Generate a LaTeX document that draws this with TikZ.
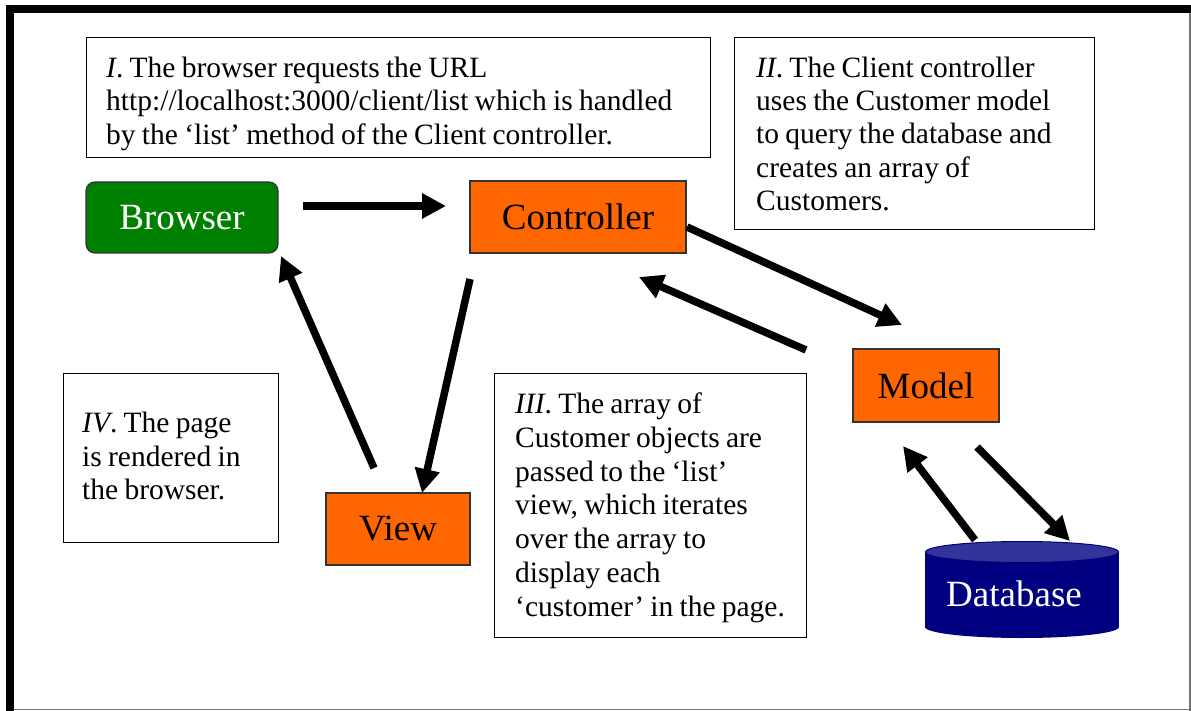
\documentclass[tikz,border=0pt]{standalone}
\usepackage{fontspec}
\setmainfont{Liberation Serif}[WordSpace={0.85,0,0}]
\usetikzlibrary{arrows.meta}
\definecolor{brgreen}{HTML}{008000}
\definecolor{mvcorange}{HTML}{FF6600}
\definecolor{dbnavy}{HTML}{000080}
\definecolor{dbtop}{HTML}{333399}
\tikzset{
  noteframe/.style={draw=black, line width=1.4pt, fill=white, anchor=north west,
    inner sep=0pt},
  notetext/.style={anchor=west, inner sep=0pt, align=left,
    font=\fontsize{29.5}{33.3}\selectfont},
  mvcbox/.style={draw=black!80, line width=1.2pt, fill=mvcorange, inner sep=0pt,
    font=\fontsize{37}{40}\selectfont},
  bigarrow/.style={line width=7.5pt, -{Triangle[length=24pt,width=24pt]}},
}
\begin{document}
\begin{tikzpicture}[x=1pt,y=-1pt]
\useasboundingbox (0,0) rectangle (1191,711);
% frame
\fill[black] (6,5) rectangle (14,711);
\fill[black] (6,5) rectangle (1191,13);
\draw[black!55, line width=1.2pt] (1190,13) -- (1190,711);
\draw[black!55, line width=1.2pt] (14,709.5) -- (1191,709.5);

% note boxes
\node[noteframe, minimum width=624pt, minimum height=120pt] (boxI) at (86,37) {};
\node[notetext] (noteI) at ([xshift=20pt,yshift=-6pt]boxI.west)
  {\textit{I}. The browser requests the URL\\
   http://localhost:3000/client/list which is handled\\
   by the ‘list’ method of the Client controller.};
\node[noteframe, minimum width=360pt, minimum height=192pt] (boxII) at (734,37) {};
\node[notetext] (noteII) at ([xshift=22pt,yshift=0pt]boxII.west)
  {\textit{II}. The Client controller\\
   uses the Customer model\\
   to query the database and\\
   creates an array of\\
   Customers.};
\node[noteframe, minimum width=312pt, minimum height=264pt] (boxIII) at (494,373) {};
\node[notetext, font=\fontsize{29.5}{33.7}\selectfont] (noteIII) at ([xshift=21pt,yshift=-2pt]boxIII.west)
  {\textit{III}. The array of\\
   Customer objects are\\
   passed to the ‘list’\\
   view, which iterates\\
   over the array to\\
   display each\\
   ‘customer’ in the page.};
\node[noteframe, minimum width=215pt, minimum height=169pt] (boxIV) at (63,373) {};
\node[notetext] (noteIV) at ([xshift=19pt,yshift=2pt]boxIV.west)
  {\textit{IV}. The page\\
   is rendered in\\
   the browser.};

% MVC nodes
\node[draw=black!80, line width=1.2pt, fill=brgreen, rounded corners=9pt,
  minimum width=192pt, minimum height=71pt, inner sep=0pt, text=white,
  font=\fontsize{37}{40}\selectfont] (browser) at (182,217.5) {Browser};
\node[mvcbox, minimum width=216pt, minimum height=72pt] (ctrl) at (578,217) {Controller};
\node[mvcbox, minimum width=146pt, minimum height=73pt] (model) at (926,385.5) {Model};
\node[mvcbox, minimum width=144pt, minimum height=72pt] (view) at (398,529) {View};

% database cylinder
\fill[dbnavy] (925,552) rectangle (1119,627);
\fill[dbnavy] (1022,627) ellipse [x radius=97pt, y radius=11pt];
\filldraw[fill=dbtop, draw=dbnavy, line width=1pt] (1022,552) ellipse [x radius=96.5pt, y radius=10.5pt];
\node[text=white, font=\fontsize{37}{40}\selectfont, inner sep=0pt] (db) at (1014,594) {Database};

% arrow end points
\coordinate (bcS) at (303,206);  \coordinate (bcE) at (446,206);
\coordinate (cmS) at (687,227);  \coordinate (cmE) at (902,325);
\coordinate (mcS) at (806,350);  \coordinate (mcE) at (639,277);
\coordinate (cvS) at (470,279);  \coordinate (cvE) at (422,493);
\coordinate (vbS) at (374,468);  \coordinate (vbE) at (281,256);
\coordinate (mdS) at (977,447);  \coordinate (mdE) at (1070,541);
\coordinate (dmS) at (975,540);  \coordinate (dmE) at (903,446);

\draw[bigarrow] (bcS) -- (bcE);
\draw[bigarrow] (cmS) -- (cmE);
\draw[bigarrow] (mcS) -- (mcE);
\draw[bigarrow] (cvS) -- (cvE);
\draw[bigarrow] (vbS) -- (vbE);
\draw[bigarrow] (mdS) -- (mdE);
\draw[bigarrow] (dmS) -- (dmE);
\end{tikzpicture}
\end{document}
